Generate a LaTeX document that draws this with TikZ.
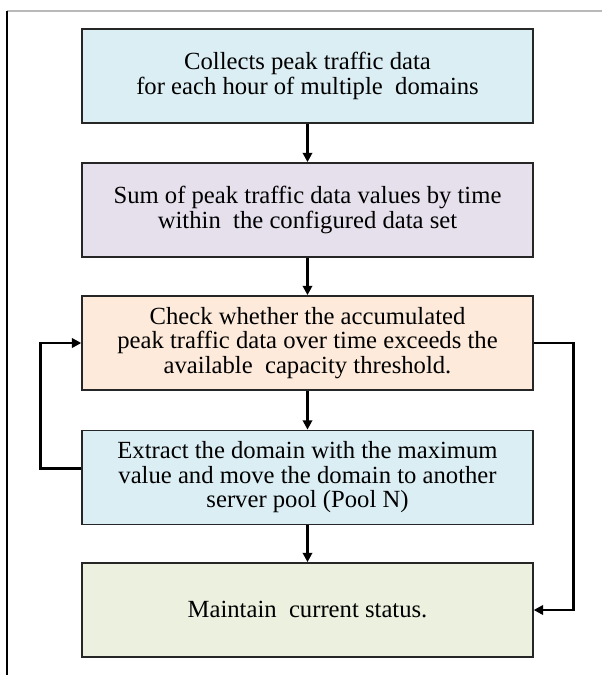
\documentclass[tikz,border=0pt]{standalone}
\usepackage{fontspec}
\setmainfont{Liberation Serif}
\usetikzlibrary{arrows.meta,positioning}
\definecolor{cBlue}{HTML}{DBEEF4}
\definecolor{cLav}{HTML}{E5E0EC}
\definecolor{cPeach}{HTML}{FDEADA}
\definecolor{cOlive}{HTML}{EBF1DE}
\definecolor{cBorder}{HTML}{262626}
\newcommand{\boxfnt}{\fontsize{18.5}{18.4}\selectfont\setlength{\lineskiplimit}{-20pt}}
\tikzset{
  box/.style={draw=cBorder, line width=1.3pt, minimum width=338pt, minimum height=70.5pt,
    align=center, inner sep=0pt, font=\boxfnt},
  arr/.style={line width=2pt, -{Triangle[length=7pt,width=7pt]}},
  frameline/.style={line width=0.8pt, black},
  topline/.style={line width=1.6pt, gray!55}
}
\begin{document}
\begin{tikzpicture}[x=0.75pt,y=-0.75pt]
\useasboundingbox (0,0) rectangle (602,675);
\draw[topline] (7,11) -- (602,11);
\draw[frameline] (7,11) -- (7,675);
\node[box, fill=cBlue] (b1) at (307.5,76) {Collects peak traffic data\\for each hour of multiple\ \ domains};
\node[box, fill=cLav] (b2) at (307.5,210) {Sum of peak traffic data values by time\\within\ \ the configured data set};
\node[box, fill=cPeach] (b3) at (307.5,343) {Check whether the accumulated\\peak traffic data over time exceeds the\\available\ \ capacity threshold.};
\node[box, fill=cBlue] (b4) at (307.5,477.5) {Extract the domain with the maximum\\value and move the domain to another\\server pool (Pool N)};
\node[box, fill=cOlive] (b5) at (307.5,610) {Maintain\ \ current status.};
\draw[arr] (b1) -- (b2);
\draw[arr] (b2) -- (b3);
\draw[arr] (b3) -- (b4);
\draw[arr] (b4) -- (b5);
\draw[arr] ([yshift=7pt]b4.west) -- ++(-41,0) |- (b3.west);
\draw[arr] (b3.east) -- ++(40,0) |- (b5.east);
\end{tikzpicture}
\end{document}
